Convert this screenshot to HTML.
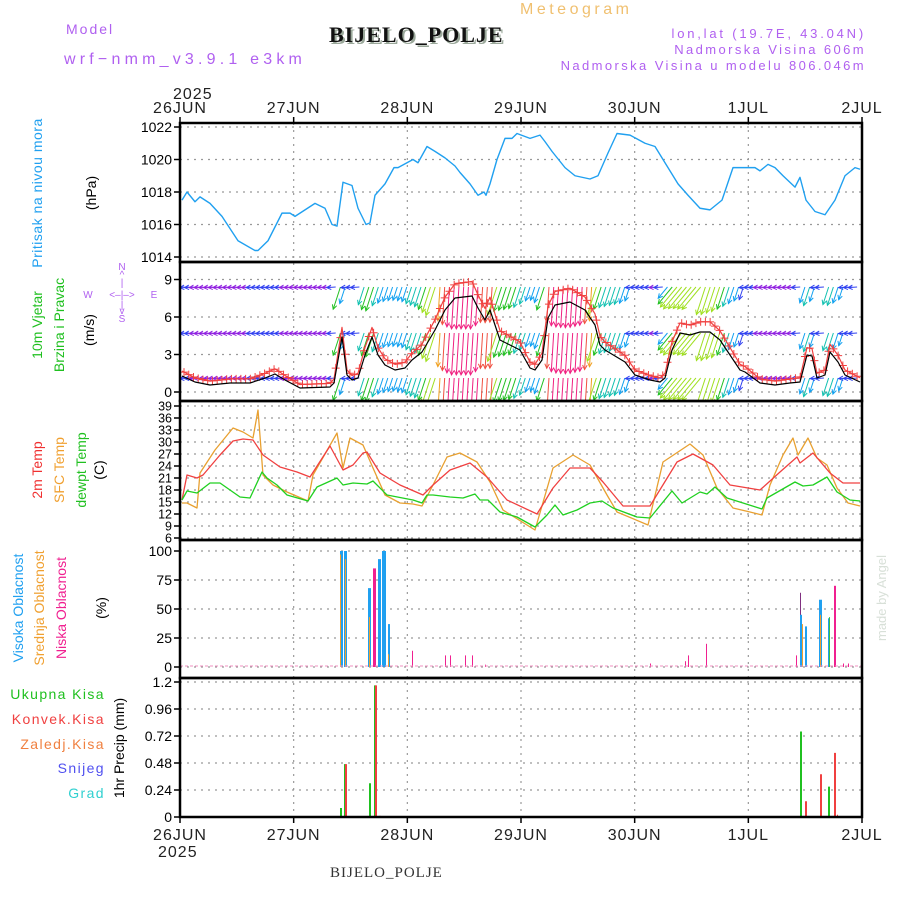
<!DOCTYPE html>
<html><head><meta charset="utf-8"><style>
html,body{margin:0;padding:0;background:#fff;}
svg{display:block;font-family:"Liberation Sans",sans-serif;}
</style></head><body>
<svg id="s" width="900" height="900" viewBox="0 0 900 900" xmlns="http://www.w3.org/2000/svg">
<defs><clipPath id="wc"><rect x="180" y="263" width="682" height="137"/></clipPath></defs>
<rect width="900" height="900" fill="#fff"/>
<g id="grid"></g>
<g id="wind" clip-path="url(#wc)"></g>
<g id="data"></g>
<g id="frame"></g>
<g id="txt" font-family="Liberation Sans, sans-serif">
<text x="66" y="34" fill="#b060f0" font-size="14" letter-spacing="2">Model</text>
<text x="64" y="64" fill="#b060f0" font-size="16" letter-spacing="4.2">wrf−nmm_v3.9.1 e3km</text>
<text x="331" y="44" fill="#9aa89a" font-size="22" font-weight="bold" font-family="Liberation Serif, serif" letter-spacing="1">BIJELO_POLJE</text>
<text x="329" y="42" fill="#111" font-size="22" font-weight="bold" font-family="Liberation Serif, serif" letter-spacing="1">BIJELO_POLJE</text>
<text x="520" y="14" fill="#f0c070" font-size="16" letter-spacing="3.5">Meteogram</text>
<text x="866" y="38" fill="#b060f0" font-size="13" text-anchor="end" letter-spacing="2.8">lon,lat (19.7E, 43.04N)</text>
<text x="866" y="54" fill="#b060f0" font-size="13" text-anchor="end" letter-spacing="2.4">Nadmorska Visina 606m</text>
<text x="866" y="70" fill="#b060f0" font-size="13" text-anchor="end" letter-spacing="2.4">Nadmorska Visina u modelu 806.046m</text>
<text x="173" y="99" fill="#222" font-size="16" letter-spacing="1">2025</text>
<text x="330" y="877" fill="#333" font-size="15" font-family="Liberation Serif, serif" letter-spacing="1">BIJELO_POLJE</text>
<text x="158" y="857" fill="#222" font-size="16" letter-spacing="1">2025</text>
<text transform="translate(42,193) rotate(-90)" fill="#20a0f0" font-size="14" text-anchor="middle" letter-spacing="0.5">Pritisak na nivou mora</text>
<text transform="translate(96,193) rotate(-90)" fill="#000" font-size="14" text-anchor="middle">(hPa)</text>
<text transform="translate(42,325) rotate(-90)" fill="#20c020" font-size="14" text-anchor="middle">10m Vjetar</text>
<text transform="translate(64,325) rotate(-90)" fill="#20c020" font-size="14" text-anchor="middle">Brzina i Pravac</text>
<text transform="translate(94,330) rotate(-90)" fill="#000" font-size="14" text-anchor="middle">(m/s)</text>
<g fill="#b060f0" font-size="10" text-anchor="middle">
<text x="122" y="270">N</text><text x="122" y="278">^</text><text x="122" y="286">|</text>
<text x="122" y="298">&lt;–|–&gt;</text><text x="88" y="298">W</text><text x="154" y="298">E</text>
<text x="122" y="308">|</text><text x="122" y="314">v</text><text x="122" y="322">S</text></g>
<text transform="translate(42,470) rotate(-90)" fill="#f03030" font-size="14" text-anchor="middle">2m Temp</text>
<text transform="translate(64,470) rotate(-90)" fill="#f0a030" font-size="14" text-anchor="middle">SFC Temp</text>
<text transform="translate(86,470) rotate(-90)" fill="#20c020" font-size="14" text-anchor="middle">dewpt Temp</text>
<text transform="translate(104,470) rotate(-90)" fill="#000" font-size="14" text-anchor="middle">(C)</text>
<text transform="translate(23,608) rotate(-90)" fill="#20a0f0" font-size="14" text-anchor="middle">Visoka Oblacnost</text>
<text transform="translate(44,608) rotate(-90)" fill="#f0a030" font-size="14" text-anchor="middle">Srednja Oblacnost</text>
<text transform="translate(66,608) rotate(-90)" fill="#f02090" font-size="14" text-anchor="middle">Niska Oblacnost</text>
<text transform="translate(106,608) rotate(-90)" fill="#000" font-size="14" text-anchor="middle">(%)</text>
<text transform="translate(886,598) rotate(-90)" fill="#d8e0d8" font-size="13" text-anchor="middle">made by Angel</text>
<g font-size="14" text-anchor="end" letter-spacing="1.4">
<text x="105" y="699" fill="#20c020">Ukupna Kisa</text>
<text x="105" y="724" fill="#f04040">Konvek.Kisa</text>
<text x="105" y="749" fill="#f08040">Zaledj.Kisa</text>
<text x="105" y="773" fill="#5050f0">Snijeg</text>
<text x="105" y="798" fill="#30d0d0">Grad</text></g>
<text transform="translate(124,748) rotate(-90)" fill="#000" font-size="14" text-anchor="middle">1hr Precip (mm)</text>
</g>
</svg>
<script>
const NS="http://www.w3.org/2000/svg";
const G=id=>document.getElementById(id);
function el(p,t,a,txt){const e=document.createElementNS(NS,t);for(const k in a)e.setAttribute(k,a[k]);if(txt!==undefined)e.textContent=txt;G(p).appendChild(e);return e;}
const L=180,R=862;
const days=["26JUN","27JUN","28JUN","29JUN","30JUN","1JUL","2JUL"];
const dx=(R-L)/6;
const panels=[[123,262],[262,401],[401,540],[540,678],[678,817]];
for(let i=1;i<6;i++){const x=L+i*dx;el("grid","line",{x1:x,y1:123,x2:x,y2:817,stroke:"#999","stroke-dasharray":"2,5","stroke-width":1.2});}
function hticks(vals,fy,fmt,fs){vals.forEach(v=>{const y=fy(v);el("grid","line",{x1:L,y1:y,x2:R,y2:y,stroke:"#999","stroke-dasharray":"2,5","stroke-width":1.2});el("frame","line",{x1:L-6,y1:y,x2:L,y2:y,stroke:"#000","stroke-width":1.5});el("txt","text",{x:L-8,y:y+fs*0.36,"font-size":fs,"text-anchor":"end",fill:"#000"},fmt(v));});}
const pY=v=>127+(1022-v)*16.25;
hticks([1014,1016,1018,1020,1022],pY,v=>v,14);
const wY=v=>392-v*12.5;
hticks([0,3,6,9],wY,v=>v,14);
const tY=v=>406+(39-v)*4;
hticks([6,9,12,15,18,21,24,27,30,33,36,39],tY,v=>v,12.5);
const cY=v=>667-v*1.16;
hticks([0,25,50,75,100],cY,v=>v,14);
const rY=v=>817-v*112.5;
hticks([0,0.24,0.48,0.72,0.96,1.2],rY,v=>String(v),14);
panels.forEach(p=>el("frame","rect",{x:L,y:p[0],width:R-L,height:p[1]-p[0],fill:"none",stroke:"#000","stroke-width":2.5}));
for(let i=0;i<7;i++){const x=L+i*dx;
 el("frame","line",{x1:x,y1:117,x2:x,y2:123,stroke:"#000","stroke-width":1.5});
 el("frame","line",{x1:x,y1:817,x2:x,y2:823,stroke:"#000","stroke-width":1.5});
 el("txt","text",{x:x,y:113,"font-size":16,"text-anchor":"middle",fill:"#222","letter-spacing":1},days[i]);
 el("txt","text",{x:x,y:840,"font-size":16,"text-anchor":"middle",fill:"#222","letter-spacing":1},days[i]);}
function poly(pts,col,w,mapY,grp){el(grp||"data","polyline",{points:pts.map(p=>p[0]+","+(mapY?mapY(p[1]):p[1])).join(" "),fill:"none",stroke:col,"stroke-width":w||1.4,"stroke-linejoin":"round"});}
const pr=[[182,1017.5],[187,1018],[195,1017.4],[200,1017.7],[210,1017.3],[222,1016.5],[238,1015],[255,1014.4],[258,1014.4],[268,1015],[282,1016.7],[290,1016.7],[295,1016.5],[305,1016.9],[315,1017.3],[325,1017],[332,1016],[337,1015.9],[343,1018.6],[352,1018.4],[358,1017],[366,1016],[370,1016.1],[375,1017.8],[385,1018.5],[394,1019.5],[398,1019.5],[413,1020],[418,1019.8],[427,1020.8],[435,1020.5],[445,1020.1],[455,1019.6],[460,1019.2],[470,1018.5],[478,1017.8],[484,1018],[486,1017.8],[490,1018.5],[497,1020],[505,1021.3],[512,1021.3],[517,1021.6],[530,1021.3],[540,1021.5],[545,1021.1],[552,1020.5],[565,1019.5],[575,1019],[590,1018.8],[598,1019],[608,1020.4],[617,1021.6],[630,1021.5],[645,1021],[655,1020.8],[663,1020],[678,1018.5],[688,1017.8],[700,1017],[710,1016.9],[722,1017.5],[733,1019.5],[755,1019.5],[760,1019.3],[768,1019.7],[775,1019.5],[783,1019],[795,1018.3],[800,1018.9],[806,1017.5],[815,1016.8],[825,1016.6],[835,1017.5],[845,1019],[855,1019.5],[860,1019.4]];
poly(pr,"#20a0f0",1.4,pY);
const wb=[[182,376],[195,382],[210,385],[230,383],[250,383],[265,378],[275,374],[285,380],[300,388],[330,387],[334,383],[342,337],[347,375],[352,380],[358,378],[365,355],[372,337],[378,355],[385,365],[395,370],[405,368],[412,360],[422,352],[435,330],[445,310],[455,298],[472,296],[478,308],[485,320],[490,310],[500,340],[510,345],[520,350],[530,368],[535,370],[542,360],[548,318],[555,305],[570,302],[585,310],[595,325],[600,345],[605,350],[625,362],[635,375],[650,380],[660,382],[665,378],[672,350],[680,333],[690,335],[700,332],[710,332],[720,340],[730,355],[740,370],[745,372],[760,383],[775,385],[790,383],[800,382],[807,355],[812,356],[817,378],[825,375],[830,352],[838,362],[845,375],[860,382]];
function interp(arr,x){for(let i=1;i<arr.length;i++){if(x<=arr[i][0]){const a=arr[i-1],b=arr[i];return a[1]+(b[1]-a[1])*(x-a[0])/(b[0]-a[0]);}}return arr[arr.length-1][1];}
const cols=["#9020e0","#3040f0","#10a0f0","#10c0b0","#20c020","#a0e020","#f0a020","#f05040","#f02080"];
function spd(x){return (392-interp(wb,x))/12.5;}
const rows=[287,333,378];
for(let x=184;x<860;x+=4.74){
 const s=spd(x);const ci=Math.min(8,Math.floor(s*1.2));const c=cols[ci];
 let ang;
 if(s<1.6) ang=Math.PI*0.98; else if(x>660&&x<705) ang=Math.PI*0.72; else if(s>5) ang=Math.PI*0.52; else ang=Math.PI*0.6;
 const len=s<1.6?9:Math.min(42,5+s*5);
 rows.forEach(y0=>{const x2=x+Math.cos(ang)*len,y2=y0+Math.sin(ang)*len;
  el("wind","line",{x1:x,y1:y0,x2:x2,y2:y2,stroke:c,"stroke-width":1});
  const a1=ang+Math.PI*0.85,a2=ang-Math.PI*0.85;
  el("wind","polyline",{points:`${x2+Math.cos(a1)*5},${y2+Math.sin(a1)*5} ${x2},${y2} ${x2+Math.cos(a2)*5},${y2+Math.sin(a2)*5}`,fill:"none",stroke:c,"stroke-width":1});});
}
const wr=wb.map(p=>[p[0],392-(392-p[1])*1.12-3]);
poly(wr,"#f04040",1.2,null,"wind");
for(let x=184;x<860;x+=4.74){const y=interp(wr,x);el("wind","path",{d:`M${x-4},${y}h8M${x},${y-4}v8`,stroke:"#f04040","stroke-width":1});}
poly(wb,"#000",1.2,null,"wind");
const sfc=[[182,503],[187,503],[197,508],[200,473],[215,450],[233,428],[243,432],[253,438],[258,410],[263,475],[273,485],[287,492],[308,501],[313,475],[337,433],[343,468],[350,438],[363,445],[373,468],[385,495],[400,503],[413,504],[422,506],[433,485],[447,457],[460,453],[477,462],[490,482],[503,510],[535,530],[553,468],[573,455],[590,465],[607,495],[617,512],[648,525],[663,462],[690,444],[703,455],[717,488],[733,508],[750,512],[762,515],[770,485],[783,455],[793,438],[798,455],[808,438],[817,458],[827,465],[837,488],[848,503],[860,506]];
const t2=[[182,500],[187,475],[197,478],[203,475],[220,455],[233,441],[243,439],[253,440],[263,455],[280,467],[297,472],[310,477],[330,446],[343,470],[353,465],[363,453],[367,452],[380,473],[400,485],[423,495],[433,485],[450,470],[470,463],[487,477],[507,500],[537,514],[553,488],[570,468],[590,468],[603,482],[623,506],[650,506],[677,462],[693,454],[713,465],[730,485],[760,490],[780,472],[797,457],[800,463],[813,453],[830,473],[843,483],[860,483]];
const dp=[[182,500],[187,491],[197,493],[210,483],[220,483],[240,497],[250,498],[262,472],[267,478],[277,485],[287,495],[308,501],[317,487],[337,478],[343,485],[353,483],[367,484],[373,481],[387,495],[413,500],[422,503],[427,495],[433,495],[450,497],[463,498],[475,494],[480,500],[488,500],[500,512],[517,517],[535,527],[547,515],[555,505],[563,515],[577,510],[590,503],[602,501],[613,508],[637,517],[650,518],[672,491],[682,503],[700,492],[707,494],[715,487],[727,498],[743,503],[762,509],[767,498],[795,482],[803,486],[813,485],[827,477],[837,492],[850,500],[860,501]];
poly(sfc,"#e8a030",1.3);poly(t2,"#f04040",1.3);poly(dp,"#20d020",1.3);
const B="#20a0f0",O="#f0a030",P="#f02090";
const cb=[[340,3,100,B],[340,1,97,O],[344,3,100,B],[345,1,93,O],[368,3,68,B],[369,1,43,O],[373,2,85,P],[375,1,85,P],[378,3,93,B],[382,4,100,B],[388,2,37,B],[388,1,11,O],[412,1,14,P],[445,1,10,P],[450,1,10,P],[465,1,10,P],[472,1,10,P],[485,1,2,P],[650,1,3,P],[685,1,5,P],[688,1,10,P],[706,1,20,P],[796,1,10,P],[800,1,64,"#803080"],[800,2,45,B],[802,1,37,O],[805,2,35,B],[819,3,58,B],[820,1,45,O],[828,2,42,B],[829,1,43,"#40c040"],[834,2,70,P],[843,1,3,P],[848,1,3,P]];
cb.forEach(b=>el("data","rect",{x:b[0],y:cY(b[2]),width:b[1],height:b[2]*1.16,fill:b[3]}));
el("data","line",{x1:L,y1:666,x2:R,y2:666,stroke:"#f090c0","stroke-width":1,"stroke-dasharray":"3,2"});
const G_="#20c020",Rd="#f04040";
const rb=[[340,2,0.08,G_],[344,2,0.47,G_],[345,2,0.47,Rd],[369,2,0.3,G_],[374,2,1.17,G_],[375,2,1.17,Rd],[379,2,0.01,Rd],[800,2,0.76,G_],[805,2,0.14,Rd],[820,2,0.38,Rd],[828,2,0.27,G_],[834,2,0.57,Rd],[837,1,0.02,Rd]];
rb.forEach(b=>el("data","rect",{x:b[0],y:rY(b[2]),width:b[1],height:b[2]*112.5,fill:b[3]}));
</script>
</body></html>
